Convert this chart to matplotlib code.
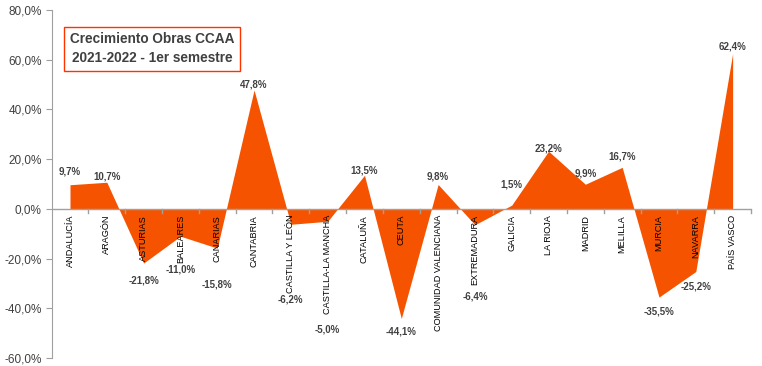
import matplotlib.pyplot as plt
import numpy as np
from matplotlib.ticker import FuncFormatter

plt.rcParams['font.family'] = ['Liberation Sans', 'DejaVu Sans']

# Data
regiones = ['ANDALUCÍA', 'ARAGÓN', 'ASTURIAS', 'BALEARES', 'CANARIAS', 'CANTABRIA',
            'CASTILLA Y LEÓN', 'CASTILLA-LA MANCHA', 'CATALUÑA', 'CEUTA',
            'COMUNIDAD VALENCIANA', 'EXTREMADURA', 'GALICIA', 'LA RIOJA', 'MADRID',
            'MELILLA', 'MURCIA', 'NAVARRA', 'PAÍS VASCO']
crecimiento = [9.7, 10.7, -21.8, -11.0, -15.8, 47.8, -6.2, -5.0, 13.5, -44.1,
               9.8, -6.4, 1.5, 23.2, 9.9, 16.7, -35.5, -25.2, 62.4]

# vertical offset (pixels) of each data label centre from its point
label_dy = [13, 6, -17, -33, -36, 6, -75, -108, 5, -13, 8, -72, 21, 3, 11, 11, -14, -15, 7]

orange = '#F65300'
txt = '#404040'

fig = plt.figure(figsize=(7.62, 3.66), dpi=100)
ax = fig.add_axes([0.0677, 0.0219, 0.9179, 0.9508])

x = np.arange(len(regiones))
ax.fill_between(x, crecimiento, 0, color=orange, linewidth=0)

ax.set_xlim(-0.5, len(regiones) - 0.5)
ax.set_ylim(-60, 80)
ax.set_yticks(np.arange(-60, 81, 20))
ax.yaxis.set_major_formatter(FuncFormatter(lambda v, p: f'{v:.1f}%'.replace('.', ',')))
ax.tick_params(axis='y', length=4, color='#A0A0A0', labelsize=8.5, labelcolor=txt, pad=3)

for s in ['top', 'right', 'bottom']:
    ax.spines[s].set_visible(False)
ax.spines['left'].set_color('#A0A0A0')
ax.axhline(0, color='#A0A0A0', linewidth=1)

# category boundary ticks on the zero line
ax.set_xticks([])
for b in np.arange(0.5, len(regiones) - 0.5 + 1, 1.0):
    ax.plot([b, b], [0, -1.6], color='#A0A0A0', linewidth=1, clip_on=False)

for i, name in enumerate(regiones):
    ax.annotate(name, (i, 0), xytext=(0, -6), textcoords='offset pixels',
                rotation=90, ha='center', va='top', fontsize=6.6, color='black')

for i, v in enumerate(crecimiento):
    lbl = f'{v:.1f}%'.replace('.', ',')
    ax.annotate(lbl, (i, v), xytext=(0, label_dy[i]), textcoords='offset pixels',
                ha='center', va='center', fontsize=7, fontweight='bold', color=txt)

ax.text(0.1436, 0.889, 'Crecimiento Obras CCAA\n2021-2022 - 1er semestre',
        transform=ax.transAxes, ha='center', va='center', fontsize=9.8,
        fontweight='bold', color=txt, linespacing=1.45,
        bbox=dict(boxstyle='square,pad=0.4', facecolor='white', edgecolor='#FF3300', linewidth=1))

fig.savefig('out.png', dpi=100)
